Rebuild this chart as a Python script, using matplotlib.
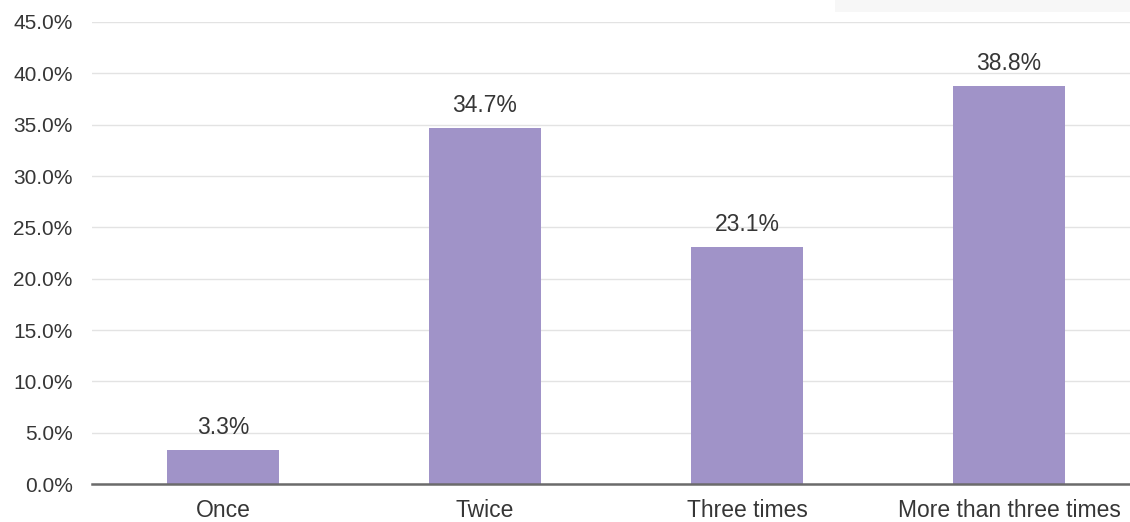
import matplotlib
matplotlib.use("Agg")
import matplotlib.pyplot as plt
from matplotlib.patches import Rectangle
from matplotlib.ticker import FuncFormatter

categories = ["Once", "Twice", "Three times", "More than three times"]
values = [3.3, 34.7, 23.1, 38.8]
yticks = [0, 5, 10, 15, 20, 25, 30, 35, 40, 45]

plt.rcParams['font.family'] = ['Liberation Sans', 'DejaVu Sans']
text_color = "#363636"
bar_color = "#A093C8"

fig = plt.figure(figsize=(11.3, 5.22), dpi=100)
ax = fig.add_axes([92/1130, 38/522, 1048/1130, 462/522])

x = list(range(len(categories)))
ax.bar(x, values, width=0.424, color=bar_color, zorder=3)
ax.set_xlim(-0.5, 3.5)
ax.set_ylim(0, 45)
ax.set_yticks(yticks)
ax.yaxis.set_major_formatter(FuncFormatter(lambda v, p: f"{v:.1f}%"))
ax.set_xticks(x)
ax.set_xticklabels(categories)
ax.grid(axis='y', color='#e3e3e3', linewidth=1.0, zorder=0)
for s in ['top', 'right', 'left']:
    ax.spines[s].set_visible(False)
ax.spines['bottom'].set_color('#6b6b6b')
ax.spines['bottom'].set_linewidth(1.8)
ax.spines['bottom'].set_zorder(4)
ax.tick_params(axis='both', length=0, colors=text_color)
ax.tick_params(axis='y', pad=14, labelsize=15)
ax.tick_params(axis='x', pad=11, labelsize=16.5)

for xi, v in zip(x, values):
    ax.annotate(f"{v}%", (xi, v), xytext=(0, 8), textcoords='offset points',
                ha='center', va='bottom', fontsize=16.5, color=text_color)

fig.patches.append(Rectangle((835/1130, 1 - 12/522), 295/1130, 12/522,
                             transform=fig.transFigure, facecolor='#f7f7f7',
                             edgecolor='none', zorder=0))

fig.savefig("out.png", dpi=100)
